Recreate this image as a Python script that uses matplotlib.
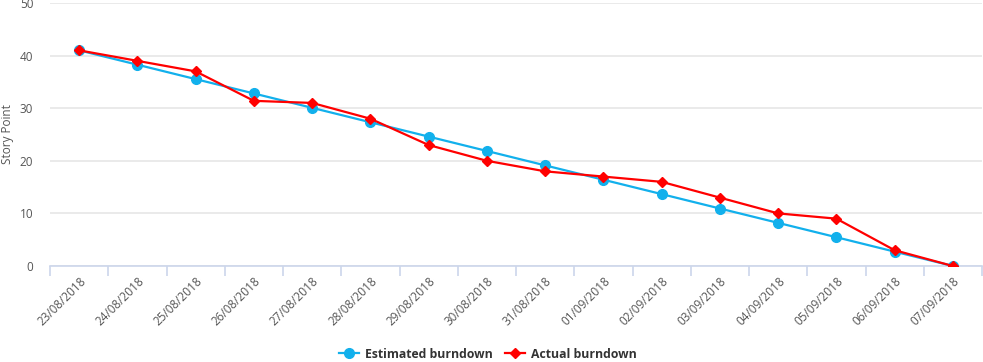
import matplotlib
matplotlib.use("Agg")
from matplotlib import pyplot as plt
from matplotlib.lines import Line2D

plt.rcParams['font.family'] = ['Open Sans', 'DejaVu Sans']

# data
dates = ['23/08/2018', '24/08/2018', '25/08/2018', '26/08/2018', '27/08/2018',
         '28/08/2018', '29/08/2018', '30/08/2018', '31/08/2018', '01/09/2018',
         '02/09/2018', '03/09/2018', '04/09/2018', '05/09/2018', '06/09/2018',
         '07/09/2018']
estimated = [41, 38.27, 35.53, 32.8, 30.07, 27.33, 24.6, 21.87, 19.13, 16.4,
             13.67, 10.93, 8.2, 5.47, 2.73, 0]
actual = [41, 39, 37, 31.4, 31, 28, 23, 20, 18, 17, 16, 13, 10, 9, 3, 0]
yticks = [0, 10, 20, 30, 40, 50]

blue = '#12b0ec'
red = '#ff0000'
grey_txt = '#555555'

fig = plt.figure(figsize=(9.83, 3.62), dpi=100)
ax = fig.add_axes([50 / 983, 96 / 362, 932 / 983, 263 / 362])

x = list(range(len(dates)))
ax.plot(x, estimated, color=blue, lw=1.6, marker='o', ms=7, zorder=3)
ax.plot(x, actual, color=red, lw=1.6, marker='D', ms=5.5, zorder=4)

ax.set_xlim(-0.5, len(dates) - 0.5)
ax.set_ylim(0, 50)
ax.set_yticks(yticks)
ax.grid(axis='y', color='#e6e6e6', lw=1.2)
ax.set_axisbelow(True)

for s in ['top', 'right', 'left']:
    ax.spines[s].set_visible(False)
ax.spines['bottom'].set_color('#ccd6eb')
ax.spines['bottom'].set_linewidth(1.2)
ax.spines['bottom'].set_zorder(2)

# ticks between categories, labels at category centres
ax.set_xticks([i - 0.5 for i in range(len(dates) + 1)])
ax.set_xticklabels([])
ax.tick_params(axis='x', which='major', length=7, color='#ccd6eb', width=1.2)
ax.set_xticks(x, minor=True)
ax.set_xticklabels(dates, minor=True, rotation=45, ha='right',
                   rotation_mode='anchor', fontsize=8.5, color=grey_txt)
ax.tick_params(axis='x', which='minor', length=0, pad=6)
ax.tick_params(axis='y', length=0, labelsize=8.5, labelcolor=grey_txt, pad=12)

ax.set_ylabel('Story Point', fontsize=8.5, color=grey_txt)
ax.yaxis.set_label_coords(-36 / 932, 0.5)

handles = [Line2D([], [], color=blue, lw=1.6, marker='o', ms=7),
           Line2D([], [], color=red, lw=1.6, marker='D', ms=5.5)]
leg = fig.legend(handles, ['Estimated burndown', 'Actual burndown'],
                 loc='center', bbox_to_anchor=(488 / 983, 8 / 362), ncol=2,
                 frameon=False, handlelength=1.6, handletextpad=0.5,
                 columnspacing=1.0, prop={'weight': 'bold', 'size': 8.8})
for t in leg.get_texts():
    t.set_color('#333333')

fig.savefig('out.png', dpi=100)
